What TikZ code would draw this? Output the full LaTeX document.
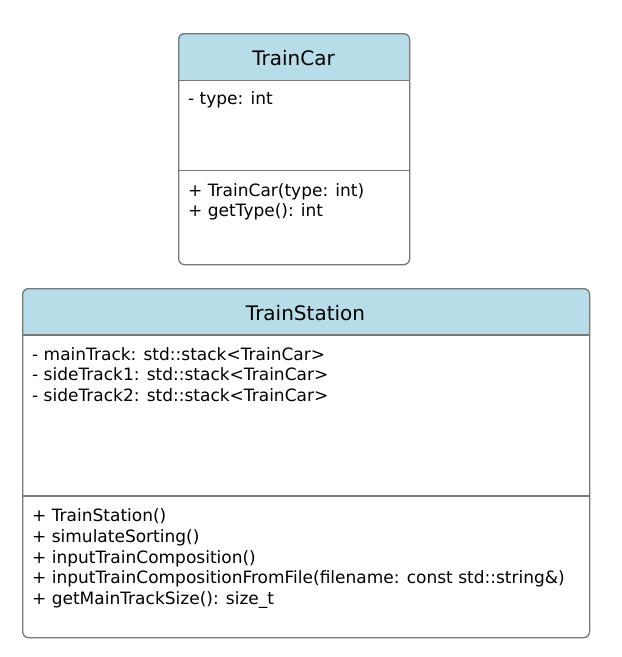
\documentclass[tikz,border=0pt]{standalone}
\usepackage{fontspec}
\setmainfont{DejaVu Sans}
\definecolor{hdr}{RGB}{183,221,232}
\definecolor{edgegray}{RGB}{120,120,120}
\begin{document}
\begin{tikzpicture}[x=1pt,y=-1pt,
  classbox/.style={draw=edgegray, line width=1.3pt, rounded corners=6pt, inner sep=0pt},
  divider/.style={draw=edgegray, line width=1.3pt},
  titletext/.style={font=\fontsize{20}{24}\selectfont, inner sep=0pt, anchor=base},
  bodytext/.style={font=\fontsize{17}{20.8}\selectfont, inner sep=0pt, anchor=base west, align=left}]
\useasboundingbox (0,0) rectangle (622,657);
% TrainCar
\begin{scope}
  \clip[rounded corners=6pt] (178,33) rectangle (409,264);
  \fill[hdr] (178,33) rectangle (409,80.5);
\end{scope}
\node[classbox, minimum width=231pt, minimum height=231pt, anchor=north west] (car) at (178,33) {};
\draw[divider] (car.west |- 0,80.5) -- (car.east |- 0,80.5);
\draw[divider] (car.west |- 0,170.5) -- (car.east |- 0,170.5);
\node[titletext] (cartitle) at (293.5,65.5) {TrainCar};
\node[bodytext] (carattr) at (188,104) {- type: int};
\node[bodytext] (carops) at (188,216.8) {+ TrainCar(type: int)\\+ getType(): int};
% TrainStation
\begin{scope}
  \clip[rounded corners=6pt] (22,288) rectangle (589,637);
  \fill[hdr] (22,288) rectangle (589,335);
\end{scope}
\node[classbox, minimum width=567pt, minimum height=349pt, anchor=north west] (station) at (22,288) {};
\draw[divider] (station.west |- 0,335) -- (station.east |- 0,335);
\draw[divider] (station.west |- 0,496) -- (station.east |- 0,496);
\node[titletext] (stationtitle) at (305.5,320.5) {TrainStation};
\node[bodytext] (stationattr) at (32,401.6) {- mainTrack: std::stack<TrainCar>\\- sideTrack1: std::stack<TrainCar>\\- sideTrack2: std::stack<TrainCar>};
\node[bodytext] (stationops) at (32,604.7) {+ TrainStation()\\+ simulateSorting()\\+ inputTrainComposition()\\+ inputTrainCompositionFromFile(filename: const std::string\&)\\+ getMainTrackSize(): size\_t};
\end{tikzpicture}
\end{document}
